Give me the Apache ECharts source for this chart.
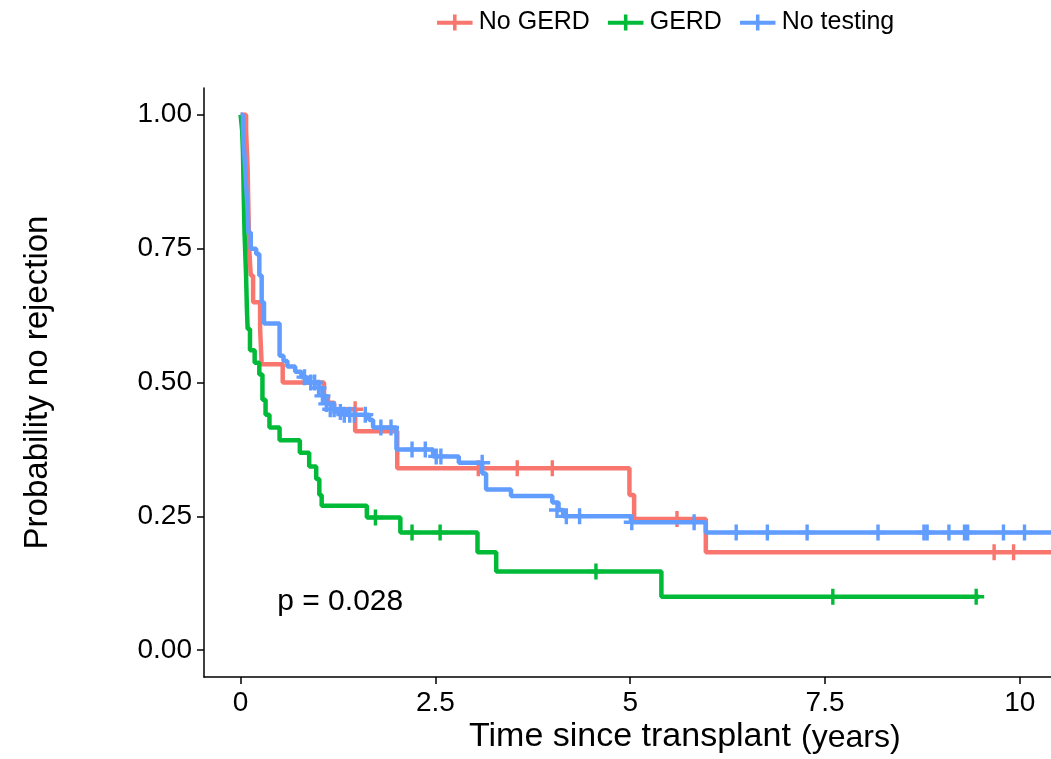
<!DOCTYPE html>
<html>
<head>
<meta charset="utf-8">
<script src="https://cdn.jsdelivr.net/npm/echarts@6/dist/echarts.min.js"></script>
<style>
  html, body { margin: 0; padding: 0; background: #fff; }
  #main { width: 1051px; height: 759px; }
</style>
</head>
<body>
<div id="main"></div>
<script>
// groups
var groups = ['No GERD', 'GERD', 'No testing'];
var colors = ['#F8766D', '#00BA38', '#619CFF'];

// No GERD: step times (years) and survival
var noGerdTime = [0, 0.07, 0.09, 0.10, 0.11, 0.13, 0.16, 0.25, 0.27, 0.54, 1.07, 1.12, 1.20, 1.47, 2.01, 4.99, 5.05, 5.97, 10.6];
var noGerdSurv = [1.00, 0.97, 0.90, 0.82, 0.75, 0.70, 0.65, 0.60, 0.534, 0.50, 0.474, 0.462, 0.45, 0.409, 0.34, 0.29, 0.245, 0.183, 0.183];
var noGerdCensT = [1.47, 3.05, 3.55, 4.00, 5.60, 9.67, 9.92];
var noGerdCensS = [0.45, 0.34, 0.34, 0.34, 0.245, 0.183, 0.183];

// GERD
var gerdTime = [0, 0.02, 0.03, 0.04, 0.05, 0.07, 0.08, 0.09, 0.12, 0.18, 0.24, 0.28, 0.32, 0.37, 0.50, 0.76, 0.88, 0.97, 1.01, 1.04, 1.62, 2.05, 3.04, 3.28, 5.40, 9.48];
var gerdSurv = [1.00, 0.97, 0.93, 0.85, 0.78, 0.70, 0.64, 0.60, 0.56, 0.537, 0.515, 0.468, 0.44, 0.416, 0.392, 0.369, 0.343, 0.32, 0.29, 0.27, 0.248, 0.22, 0.183, 0.147, 0.10, 0.10];
var gerdCensT = [1.73, 2.20, 2.56, 4.56, 7.60, 9.44];
var gerdCensS = [0.248, 0.22, 0.22, 0.147, 0.10, 0.10];

// No testing
var testTime = [0, 0.03, 0.05, 0.07, 0.09, 0.10, 0.13, 0.20, 0.24, 0.27, 0.30, 0.50, 0.55, 0.60, 0.70, 0.78, 0.85, 1.00, 1.05, 1.10, 1.20, 1.35, 1.65, 1.70, 2.00, 2.47, 2.80, 3.10, 3.15, 3.47, 4.00, 4.08, 4.14, 5.01, 5.97, 10.6];
var testSurv = [1.00, 0.97, 0.92, 0.87, 0.82, 0.78, 0.75, 0.74, 0.70, 0.65, 0.61, 0.55, 0.54, 0.53, 0.52, 0.51, 0.50, 0.49, 0.475, 0.46, 0.45, 0.44, 0.43, 0.416, 0.375, 0.362, 0.35, 0.33, 0.30, 0.288, 0.276, 0.262, 0.25, 0.239, 0.22, 0.22];
var testCensT = [0.82, 0.90, 0.95, 1.00, 1.05, 1.10, 1.15, 1.20, 1.28, 1.33, 1.40, 1.46, 1.60, 1.80, 1.93, 2.20, 2.37, 2.51, 2.57, 3.10, 4.06, 4.18, 4.35, 5.02, 5.82, 6.36, 6.76, 7.27, 8.18, 8.77, 8.81, 9.09, 9.29, 9.33, 9.79, 10.06];
var testCensS = [0.51, 0.50, 0.50, 0.49, 0.475, 0.46, 0.45, 0.45, 0.445, 0.44, 0.44, 0.44, 0.44, 0.416, 0.416, 0.375, 0.375, 0.362, 0.362, 0.35, 0.262, 0.25, 0.25, 0.239, 0.239, 0.22, 0.22, 0.22, 0.22, 0.22, 0.22, 0.22, 0.22, 0.22, 0.22, 0.22];

var xTicks = [0, 2.5, 5, 7.5, 10];
var yTicks = [0, 0.25, 0.5, 0.75, 1];
var pText = 'p = 0.028';

function pairs(xs, ys) {
    var out = [];
    for (var i = 0; i < xs.length; i++) out.push([xs[i], ys[i]]);
    return out;
}

var plus = 'path://M0,6.3 L16,6.3 L16,9.7 L0,9.7 Z M6.3,0 L9.7,0 L9.7,16 L6.3,16 Z';
var legendIcon = 'path://M0,7 L40,7 L40,11.5 L0,11.5 Z M18,0 L22,0 L22,18 L18,18 Z';
var font = 'Liberation Sans, Arial, sans-serif';

var steps = [pairs(noGerdTime, noGerdSurv), pairs(gerdTime, gerdSurv), pairs(testTime, testSurv)];
var cens = [pairs(noGerdCensT, noGerdCensS), pairs(gerdCensT, gerdCensS), pairs(testCensT, testCensS)];

var series = [];
groups.forEach(function (g, i) {
    series.push({
        name: g, type: 'line', step: 'end', data: steps[i],
        showSymbol: false, symbol: 'none',
        lineStyle: { color: colors[i], width: 4.5 },
        itemStyle: { color: colors[i] },
        z: 2 + i, silent: true
    });
    series.push({
        name: g, type: 'scatter', data: cens[i],
        symbol: plus, symbolSize: 16,
        itemStyle: { color: colors[i], opacity: 1 },
        z: 2 + i, silent: true
    });
});

var myChart = echarts.init(document.getElementById('main'));
myChart.setOption({
    backgroundColor: '#fff',
    animation: false,
    textStyle: { fontFamily: font },
    legend: {
        top: 5, left: 432,
        itemWidth: 38, itemHeight: 16, itemGap: 18,
        textStyle: { fontSize: 25, color: '#000' },
        data: groups.map(function (g) { return { name: g, icon: legendIcon }; })
    },
    grid: { left: 204, right: 0, top: 88, bottom: 82 },
    xAxis: {
        type: 'value', min: -0.47, max: 10.4,
        splitLine: { show: false },
        axisLine: { show: true, onZero: false, lineStyle: { color: '#000', width: 1.5 } },
        axisTick: { show: true, customValues: xTicks, length: 7, lineStyle: { color: '#000', width: 1.5 } },
        axisLabel: { customValues: xTicks, fontSize: 28, color: '#000', margin: 12 }
    },
    yAxis: {
        type: 'value', min: -0.05, max: 1.05,
        name: 'Probability no rejection', nameLocation: 'middle', nameGap: 150,
        nameTextStyle: { fontSize: 33, color: '#000' },
        splitLine: { show: false },
        axisLine: { show: true, onZero: false, lineStyle: { color: '#000', width: 1.5 } },
        axisTick: { show: true, customValues: yTicks, length: 7, lineStyle: { color: '#000', width: 1.5 } },
        axisLabel: {
            customValues: yTicks, fontSize: 28, color: '#000', margin: 12,
            formatter: function (v) { return v.toFixed(2); }
        }
    },
    series: series
});

var pPos = myChart.convertToPixel({ gridIndex: 0 }, [0.47, 0.086]);
myChart.setOption({
    graphic: [
        {
            type: 'text', left: pPos[0], top: pPos[1] - 17,
            style: { text: pText, fontSize: 30, fill: '#000', fontFamily: font }
        },
        {
            type: 'text', left: 469, top: 720,
            style: { text: 'Time since transplant', fontSize: 34, fill: '#000', fontFamily: font }
        },
        {
            type: 'text', left: 801, top: 722,
            style: { text: '(years)', fontSize: 32, fill: '#000', fontFamily: font }
        }
    ]
});
</script>
</body>
</html>
